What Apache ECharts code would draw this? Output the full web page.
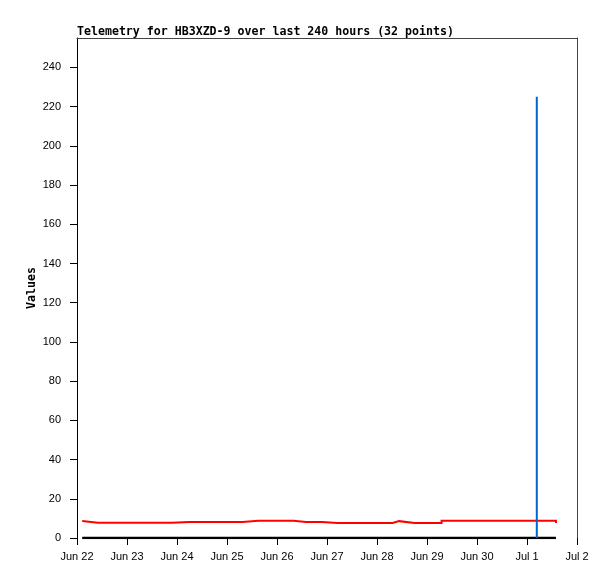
<!DOCTYPE html>
<html>
<head>
<meta charset="utf-8">
<script src="https://cdn.jsdelivr.net/npm/echarts@6/dist/echarts.min.js"></script>
<style>html,body{margin:0;padding:0;background:#fff}#c{width:615px;height:579px}</style>
</head>
<body>
<div id="c"></div>
<script>
// hours since Jun 22 00:00
var hours = [2.5, 3.0, 10, 18, 26, 34, 45.6, 54, 62, 70, 79.5, 87, 95, 103.8, 110, 117.6,
             125, 133, 141, 151.5, 154.6, 162, 175, 183, 191, 199, 207, 214, 220.7, 225, 228, 229.9];
var redValues = [8.7, 7.8, 7.8, 7.8, 7.8, 7.8, 8.2, 8.2, 8.2, 8.2, 8.85, 8.85, 8.85, 8.2, 8.2, 7.7,
                 7.7, 7.7, 7.7, 8.6, 7.6, 7.6, 8.85, 8.85, 8.85, 8.85, 8.85, 8.85, 8.85, 8.85, 8.85, 7.6];
var blackValues = [0,0,0,0,0,0,0,0,0,0,0,0,0,0,0,0,0,0,0,0,0,0,0,0,0,0,0,0,0,0,0,0];
var blueValues = [0,0,0,0,0,0,0,0,0,0,0,0,0,0,0,0,0,0,0,0,0,0,0,0,0,0,0,0,225,0,0,0];
var xTickLabels = ['Jun 22','Jun 23','Jun 24','Jun 25','Jun 26','Jun 27','Jun 28','Jun 29','Jun 30','Jul 1','Jul 2'];
var yTicks = [0,20,40,60,80,100,120,140,160,180,200,220,240];

function pairs(vals){ return hours.map(function(h,i){ return [h, vals[i]]; }); }
// step ("hold value until next sample") built from the samples
function stepPairs(vals){
  var out = [];
  hours.forEach(function(h,i){
    if (i > 0) out.push([h, vals[i-1]]);
    out.push([h, vals[i]]);
  });
  return out;
}

var labelFont = {fontFamily: 'Liberation Sans', fontSize: 11, color: '#000'};
var chart = echarts.init(document.getElementById('c'), null, {renderer: 'canvas'});
chart.setOption({
  animation: false,
  backgroundColor: '#fff',
  title: {
    text: 'Telemetry for HB3XZD-9 over last 240 hours (32 points)',
    left: 72, top: 26, padding: [0,5],
    textStyle: {fontFamily: 'DejaVu Sans Mono', fontWeight: 'bold', fontSize: 11.6, color: '#000'}
  },
  grid: {left: 77, right: 38, top: 38, bottom: 41},
  xAxis: [{
    type: 'value', min: 0, max: 240, interval: 24,
    splitLine: {show: false},
    axisLine: {show: false},
    axisTick: {show: true, length: 7, lineStyle: {color: '#000', width: 1}},
    axisLabel: Object.assign({margin: 13, formatter: function(v){ return xTickLabels[Math.round(v/24)]; }}, labelFont)
  }, {
    type: 'value', min: 0, max: 240, position: 'top',
    splitLine: {show: false},
    axisLine: {show: true, onZero: false, lineStyle: {color: '#444', width: 1}},
    axisTick: {show: false}, axisLabel: {show: false}
  }],
  yAxis: [{
    type: 'value', min: 0, max: 255, interval: 20,
    name: 'Values', nameLocation: 'middle', nameGap: 39, nameRotate: 90, nameMoveOverlap: false,
    nameTextStyle: {fontFamily: 'DejaVu Sans Mono', fontWeight: 'bold', fontSize: 11.6, color: '#000'},
    splitLine: {show: false},
    axisLine: {show: true, lineStyle: {color: '#000', width: 1}},
    axisTick: {show: true, length: 7, customValues: yTicks, lineStyle: {color: '#000', width: 1}},
    axisLabel: Object.assign({margin: 16, customValues: yTicks}, labelFont)
  }, {
    type: 'value', min: 0, max: 255, position: 'right',
    splitLine: {show: false},
    axisLine: {show: true, onZero: false, lineStyle: {color: '#444', width: 1}},
    axisTick: {show: false}, axisLabel: {show: false}
  }],
  series: [{
    type: 'line', data: stepPairs(redValues), showSymbol: false, symbol: 'none',
    lineStyle: {color: '#ff0000', width: 2, join: 'miter'}, z: 2
  }, {
    type: 'line', data: pairs(blackValues), showSymbol: false, symbol: 'none',
    lineStyle: {color: '#000', width: 2.5}, z: 3
  }, {
    type: 'bar', data: pairs(blueValues), barWidth: 2,
    itemStyle: {color: '#0066cc'}, z: 4
  }]
});
</script>
</body>
</html>
